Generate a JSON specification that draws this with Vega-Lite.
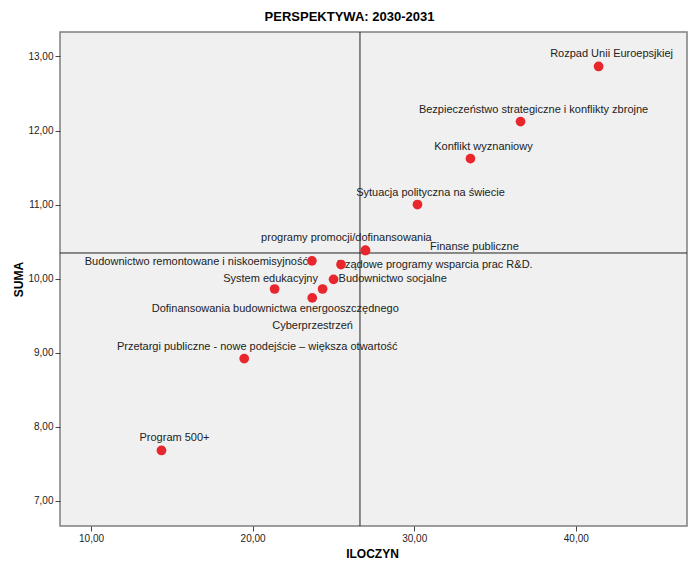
{
  "$schema": "https://vega.github.io/schema/vega-lite/v6.json",
  "autosize": "none",
  "width": 627,
  "height": 494,
  "padding": {"left": 60, "top": 32, "right": 10, "bottom": 37},
  "background": "white",
  "title": {
    "text": "PERSPEKTYWA: 2030-2031",
    "font": "Liberation Sans",
    "fontSize": 13,
    "fontWeight": "bold",
    "color": "#000000",
    "anchor": "middle",
    "frame": "group",
    "dx": -24,
    "offset": 8
  },
  "data": {
    "values": [
      {"name": "Rozpad Unii Euroepsjkiej", "iloczyn": 41.41, "suma": 12.865},
      {"name": "Bezpieczeństwo strategiczne i konflikty zbrojne", "iloczyn": 36.58, "suma": 12.12},
      {"name": "Konflikt wyznaniowy", "iloczyn": 33.48, "suma": 11.62},
      {"name": "Sytuacja polityczna na świecie", "iloczyn": 30.20, "suma": 11.00},
      {"name": "programy promocji/dofinansowania", "iloczyn": 26.98, "suma": 10.38},
      {"name": "Finanse publiczne", "iloczyn": 26.98, "suma": 10.38},
      {"name": "Budownictwo remontowane i niskoemisyjność", "iloczyn": 23.67, "suma": 10.24},
      {"name": "Rządowe programy wsparcia prac R&D.", "iloczyn": 25.47, "suma": 10.19},
      {"name": "Budownictwo socjalne", "iloczyn": 25.01, "suma": 9.99},
      {"name": "System edukacyjny", "iloczyn": 21.36, "suma": 9.86},
      {"name": "Cyberprzestrzeń", "iloczyn": 24.33, "suma": 9.86},
      {"name": "Dofinansowania budownictwa energooszczędnego", "iloczyn": 23.69, "suma": 9.74},
      {"name": "Przetargi publiczne - nowe podejście – większa otwartość", "iloczyn": 19.48, "suma": 8.92},
      {"name": "Program 500+", "iloczyn": 14.36, "suma": 7.68}
    ]
  },
  "encoding": {
    "x": {
      "field": "iloczyn", "type": "quantitative",
      "scale": {"domain": [8.08, 46.88], "nice": false, "zero": false},
      "axis": {
        "title": "ILOCZYN",
        "values": [10, 20, 30, 40],
        "labelExpr": "replace(format(datum.value, '.2f'), '.', ',')",
        "titleX": 312, "titleY": 27, "titleBaseline": "middle", "titleAlign": "center"
      }
    },
    "y": {
      "field": "suma", "type": "quantitative",
      "scale": {"domain": [6.66, 13.33], "nice": false, "zero": false},
      "axis": {
        "title": "SUMA",
        "values": [7, 8, 9, 10, 11, 12, 13],
        "labelExpr": "replace(format(datum.value, '.2f'), '.', ',')",
        "titleX": -42, "titleY": 247, "titleBaseline": "middle", "titleAlign": "center", "titleAngle": -90
      }
    }
  },
  "layer": [
    {
      "mark": {"type": "rule", "color": "#222222", "strokeWidth": 1},
      "encoding": {"x": {"aggregate": "mean", "field": "iloczyn", "type": "quantitative"}, "y": null}
    },
    {
      "mark": {"type": "rule", "color": "#222222", "strokeWidth": 1},
      "encoding": {"y": {"aggregate": "mean", "field": "suma", "type": "quantitative"}, "x": null}
    },
    {
      "transform": [{"filter": {"field": "name", "oneOf": ["Rozpad Unii Euroepsjkiej", "Bezpieczeństwo strategiczne i konflikty zbrojne", "Konflikt wyznaniowy", "Sytuacja polityczna na świecie", "Przetargi publiczne - nowe podejście – większa otwartość", "Program 500+"]}}],
      "mark": {"type": "text", "align": "center", "baseline": "middle", "dx": 13, "dy": -12},
      "encoding": {"text": {"field": "name"}}
    },
    {
      "transform": [{"filter": {"field": "name", "equal": "programy promocji/dofinansowania"}}],
      "mark": {"type": "text", "align": "center", "baseline": "middle", "dx": -19, "dy": -12},
      "encoding": {"text": {"field": "name"}}
    },
    {
      "transform": [{"filter": {"field": "name", "equal": "Finanse publiczne"}}],
      "mark": {"type": "text", "align": "center", "baseline": "middle", "dx": 109, "dy": -3},
      "encoding": {"text": {"field": "name"}}
    },
    {
      "transform": [{"filter": {"field": "name", "equal": "Budownictwo remontowane i niskoemisyjność"}}],
      "mark": {"type": "text", "align": "right", "baseline": "middle", "dx": -4, "dy": 1},
      "encoding": {"text": {"field": "name"}}
    },
    {
      "transform": [{"filter": {"field": "name", "equal": "Rządowe programy wsparcia prac R&D."}}],
      "mark": {"type": "text", "align": "left", "baseline": "middle", "dx": -4, "dy": 0},
      "encoding": {"text": {"field": "name"}}
    },
    {
      "transform": [{"filter": {"field": "name", "equal": "Budownictwo socjalne"}}],
      "mark": {"type": "text", "align": "left", "baseline": "middle", "dx": 5, "dy": 0},
      "encoding": {"text": {"field": "name"}}
    },
    {
      "transform": [{"filter": {"field": "name", "equal": "System edukacyjny"}}],
      "mark": {"type": "text", "align": "center", "baseline": "middle", "dx": -4, "dy": -10},
      "encoding": {"text": {"field": "name"}}
    },
    {
      "transform": [{"filter": {"field": "name", "equal": "Dofinansowania budownictwa energooszczędnego"}}],
      "mark": {"type": "text", "align": "center", "baseline": "middle", "dx": -37, "dy": 11},
      "encoding": {"text": {"field": "name"}}
    },
    {
      "transform": [{"filter": {"field": "name", "equal": "Cyberprzestrzeń"}}],
      "mark": {"type": "text", "align": "center", "baseline": "middle", "dx": -10, "dy": 37},
      "encoding": {"text": {"field": "name"}}
    },
    {
      "mark": {"type": "circle", "size": 95, "color": "#e8262d", "opacity": 1}
    }
  ],
  "config": {
    "font": "Liberation Sans",
    "view": {"fill": "#f0f0f0", "stroke": "#7f7f7f", "strokeWidth": 1.5},
    "text": {"font": "Liberation Sans", "fontSize": 11, "color": "#222222"},
    "axis": {
      "domain": false,
      "grid": false,
      "ticks": true,
      "tickSize": 5,
      "tickColor": "#444444",
      "labelFont": "Liberation Sans",
      "labelFontSize": 10,
      "labelColor": "#222222",
      "labelPadding": 2,
      "titleFont": "Liberation Sans",
      "titleFontSize": 12,
      "titleFontWeight": "bold",
      "titleColor": "#000000"
    }
  }
}
